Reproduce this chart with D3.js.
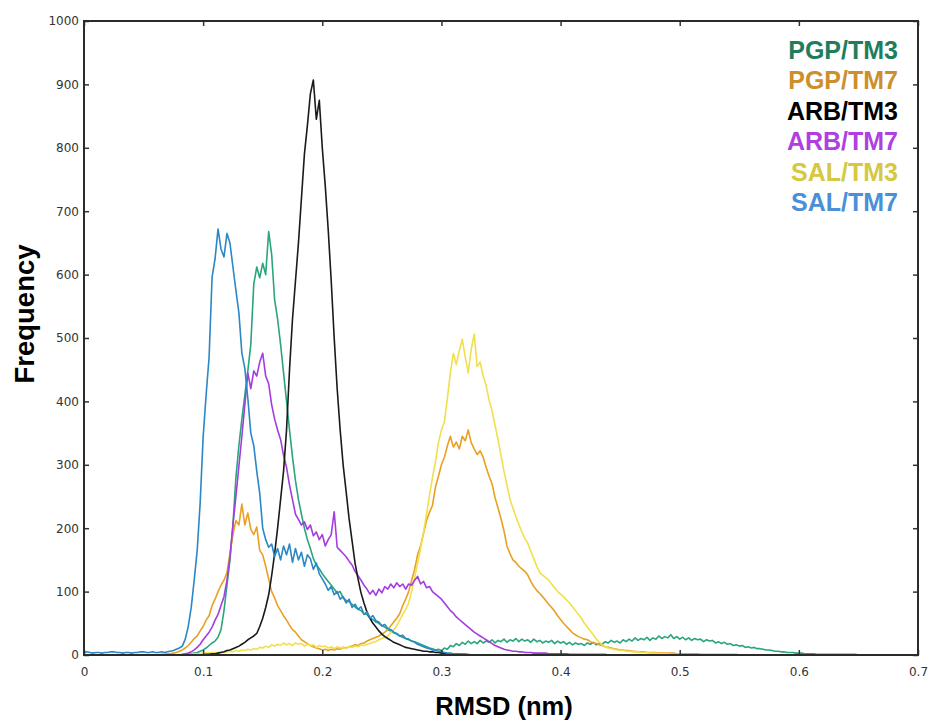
<!DOCTYPE html>
<html>
<head>
<meta charset="utf-8">
<script src="https://cdn.jsdelivr.net/npm/d3@7"></script>
<style>
  body { margin: 0; background: #fff; }
  .tick text { font-family: "DejaVu Sans", Verdana, sans-serif; font-size: 12px; fill: #333; }
  .tick line { stroke: #333; stroke-width: 1.5; }
  .domain { display: none; }
</style>
</head>
<body>
<svg id="chart" width="929" height="720"></svg>
<script>
// histogram bins, 0.0025 nm wide
var step = 0.0025;

var xTicks = [0, 0.1, 0.2, 0.3, 0.4, 0.5, 0.6, 0.7];
var yTicks = [0, 100, 200, 300, 400, 500, 600, 700, 800, 900, 1000];

var names = ["PGP/TM3", "PGP/TM7", "ARB/TM3", "ARB/TM7", "SAL/TM3", "SAL/TM7"];
var lineColors = ["#2aa57d", "#e9a023", "#1a1a1a", "#a33de0", "#f0e04a", "#2b87c6"];
var labelColors = ["#1f7d5c", "#cc8f2c", "#000000", "#b03fe2", "#d6c840", "#4a8fd8"];

// x of the first bin of each series
var starts = [0.080, 0.060, 0.100, 0.080, 0.080, 0.000];

var pgpTm3 = [
  0,0,1,1,2,3,4,6,8,11,
  15,19,22,28,40,70,110,150,205,280,
  330,372,410,448,490,585,612,595,618,600,
  668,632,560,530,490,445,400,355,312,275,
  245,222,200,182,168,152,142,136,128,122,
  116,110,104,98,100,90,86,84,80,76,
  72,70,65,64,58,56,52,50,46,44,
  40,38,35,33,30,28,26,24,22,21,
  19,17,15,13,11,10,8,9,7,11,
  9,15,13,18,15,20,17,22,18,21,
  18,23,19,22,20,24,19,23,21,25,
  20,24,22,26,21,25,22,24,20,25,
  21,23,19,22,20,23,18,22,19,21,
  17,20,16,19,17,18,15,19,17,20,
  16,18,17,21,19,23,20,22,19,24,
  21,25,22,27,23,26,24,28,23,27,
  25,30,26,29,27,32,26,29,25,28,
  24,27,23,26,24,25,21,24,22,23,
  19,21,18,20,17,18,15,16,14,15,
  12,13,11,12,10,10,9,8,8,7,
  6,6,5,5,4,4,4,3,3,3,
  2,2,2,2,1,1,1,1,1,1,
  1,1,1,1,1,1,1,1,0,0,
  0,0,0,0,0,0,0,0,0];
var pgpTm7 = [
  0,0,1,1,2,2,3,4,6,8,
  11,15,20,26,30,38,45,55,62,78,
  88,100,110,118,130,160,190,212,205,238,
  205,224,198,190,202,165,158,140,120,100,
  90,78,70,62,55,47,40,36,30,24,
  21,18,15,13,11,10,8,9,7,9,
  8,10,9,12,11,13,14,16,15,18,
  19,22,24,26,28,30,33,36,40,46,
  52,58,65,78,88,100,118,135,158,172,
  192,212,225,236,265,282,300,312,330,345,
  328,336,325,345,338,355,335,325,316,322,
  312,296,282,270,248,232,215,196,172,160,
  150,146,140,136,132,126,116,108,102,97,
  92,86,80,75,69,62,56,50,45,40,
  35,32,29,27,25,24,21,19,18,16,
  15,13,12,11,10,9,8,8,7,7,
  6,6,5,5,5,4,4,4,4,3,
  3,3,3,3,3,2,2,2,2,2,
  2,2,2,1,1,1,1,1,1,1,
  1,1,1,1,1,1,0];
var arbTm3 = [
  0,1,1,2,2,3,4,5,7,8,
  10,12,14,17,20,24,27,30,34,45,
  58,75,95,125,160,200,245,290,355,450,
  530,590,650,720,790,835,885,907,845,875,
  800,740,670,590,500,420,355,300,258,215,
  180,145,120,98,82,68,58,50,44,38,
  33,29,26,23,20,18,16,14,12,11,
  10,9,8,7,6,6,5,5,4,4,
  3,3,2,2,2,1,1,1,1,0];
var arbTm7 = [
  0,1,2,3,5,8,12,17,24,30,
  36,44,55,64,78,92,118,155,205,250,
  298,345,395,445,420,448,440,462,476,440,
  428,395,372,355,340,315,296,268,245,222,
  214,205,210,198,205,188,194,182,190,172,
  182,190,226,170,165,160,155,148,142,132,
  125,118,110,104,96,102,94,104,98,108,
  104,112,106,114,108,112,104,112,110,118,
  124,112,116,106,108,100,96,92,88,82,
  76,70,66,60,56,52,48,44,40,36,
  33,30,27,24,21,18,15,13,11,9,
  8,7,6,6,5,5,4,4,4,3,
  3,3,3,3,2,2,2,2,2,2,
  2,1,1,1,1,1,1,1,1,1,
  1,1,1,1,0];
var salTm3 = [
  0,0,1,1,1,2,2,2,3,3,
  3,4,3,4,5,4,5,6,5,7,
  6,8,7,9,8,10,9,12,11,14,
  12,16,14,17,15,19,16,18,15,19,
  17,18,14,17,15,16,12,15,13,14,
  11,13,10,13,11,12,10,13,12,14,
  13,16,15,17,18,20,21,24,26,28,
  30,35,40,46,55,64,72,82,100,122,
  145,168,194,222,252,280,305,335,355,368,
  405,445,476,458,480,498,470,445,482,506,
  455,462,440,425,402,385,362,340,315,290,
  268,246,232,218,206,194,184,176,164,152,
  140,130,126,122,118,112,106,100,96,92,
  87,82,76,70,64,58,50,44,38,32,
  25,20,16,13,11,10,9,8,7,7,
  6,6,5,5,5,4,4,4,3,3,
  3,2,2,2,2,1,1,1,1,0];
var salTm7 = [
  4,5,4,3,4,4,3,4,4,5,
  5,4,4,3,4,4,3,4,4,5,
  5,4,4,5,4,4,5,4,5,6,
  7,9,11,14,25,45,75,118,165,240,
  344,410,470,596,625,672,640,628,665,650,
  612,575,540,476,452,405,350,330,290,255,
  200,182,170,175,155,168,150,172,158,175,
  146,168,150,162,140,158,152,135,145,128,
  120,112,102,108,95,100,88,92,82,88,
  75,80,72,76,64,68,58,62,54,52,
  46,48,42,40,36,34,30,31,26,25,
  22,20,17,15,13,11,10,8,7,6,
  5,4,3,3,2,2,2,1,1,1,
  0];

var seriesValues = [pgpTm3, pgpTm7, arbTm3, arbTm7, salTm3, salTm7];
var drawOrder = [0, 1, 4, 3, 2, 5];

var svg = d3.select("#chart"),
  plotLeft = 84, plotRight = 918, plotTop = 21, plotBottom = 655;

var x = d3.scaleLinear().domain([0, 0.7]).range([plotLeft, plotRight]);
var y = d3.scaleLinear().domain([0, 1000]).range([plotBottom, plotTop]);

var line = d3.line()
  .x(function (d) { return x(d.x); })
  .y(function (d) { return y(d.y); });

var plot = svg.append("g").attr("class", "lines");

drawOrder.forEach(function (k) {
  var pts = seriesValues[k].map(function (v, i) {
    return {x: starts[k] + i * step, y: v};
  });
  plot.append("path")
    .datum(pts)
    .attr("fill", "none")
    .attr("stroke", lineColors[k])
    .attr("stroke-width", 1.6)
    .attr("stroke-linejoin", "round")
    .attr("d", line);
});

// ticks pointing inward on all four sides
svg.append("g")
  .attr("transform", "translate(0," + plotBottom + ")")
  .call(d3.axisBottom(x).tickValues(xTicks).tickSize(-5).tickPadding(12).tickFormat(d3.format("")));
svg.append("g")
  .attr("transform", "translate(" + plotLeft + ",0)")
  .call(d3.axisLeft(y).tickValues(yTicks).tickSize(-5).tickPadding(5).tickFormat(d3.format("d")));
svg.append("g")
  .attr("transform", "translate(0," + plotTop + ")")
  .call(d3.axisTop(x).tickValues(xTicks).tickSize(-5).tickFormat(""));
svg.append("g")
  .attr("transform", "translate(" + plotRight + ",0)")
  .call(d3.axisRight(y).tickValues(yTicks).tickSize(-5).tickFormat(""));

svg.append("rect")
  .attr("x", plotLeft).attr("y", plotTop)
  .attr("width", plotRight - plotLeft).attr("height", plotBottom - plotTop)
  .attr("fill", "none")
  .attr("stroke", "#2b2b2b")
  .attr("stroke-width", 2);

// legend, right aligned text only
svg.append("g")
  .selectAll("text")
  .data(names)
  .enter().append("text")
  .attr("x", 898)
  .attr("y", function (d, i) { return 59 + i * 30.4; })
  .attr("text-anchor", "end")
  .style("font-family", "'Liberation Sans', Arial, sans-serif")
  .style("font-weight", "bold")
  .style("font-size", "25px")
  .style("fill", function (d, i) { return labelColors[i]; })
  .text(function (d) { return d; });

svg.append("text")
  .attr("x", (plotLeft + plotRight) / 2 + 3)
  .attr("y", 715)
  .attr("text-anchor", "middle")
  .style("font-family", "'Liberation Sans', Arial, sans-serif")
  .style("font-weight", "bold")
  .style("font-size", "25.5px")
  .text("RMSD (nm)");

svg.append("text")
  .attr("transform", "translate(34,314) rotate(-90)")
  .attr("text-anchor", "middle")
  .style("font-family", "'Liberation Sans', Arial, sans-serif")
  .style("font-weight", "bold")
  .style("font-size", "27.5px")
  .text("Frequency");
</script>
</body>
</html>
